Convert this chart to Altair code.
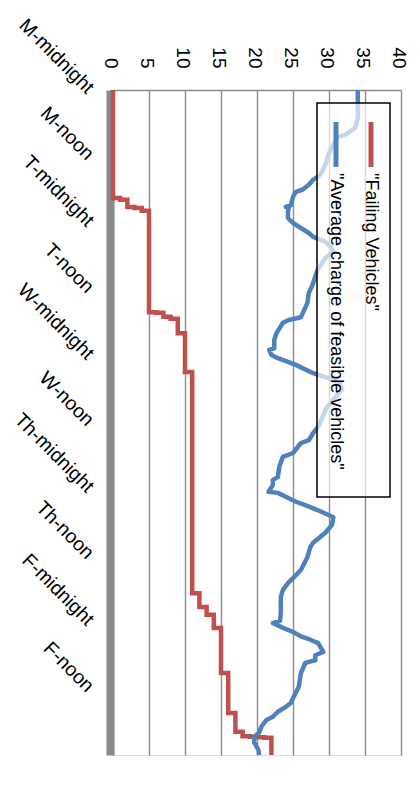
import json
import altair as alt
import pandas as pd

# ---- data ----
value_ticks = [0, 5, 10, 15, 20, 25, 30, 35, 40]
time_labels = ["M-midnight", "M-noon", "T-midnight", "T-noon", "W-midnight",
               "W-noon", "Th-midnight", "Th-noon", "F-midnight", "F-noon"]
time_tick_hours = [0, 12, 24, 36, 48, 60, 72, 84, 96, 108]
series_names = ['"Failing Vehicles"', '"Average charge of feasible vehicles"']

failing_hours = [0, 19.5, 19.8, 21.1, 21.3, 21.8, 40.1, 40.2, 40.9, 41.3, 43.9,
                 50.9, 90.8, 93.3, 94.7, 97.1, 105.2, 112.4, 115.8, 116.6, 116.7,
                 116.8, 116.9, 120]
failing_counts = [0, 1, 2, 3, 4, 5, 6, 7, 8, 9, 10, 11, 12, 13, 14, 15, 16, 17,
                  18, 19, 20, 21, 22, 22]

charge_hours = [0, 5.1, 6.9, 8.1, 8.5, 10.3, 11.7, 13.5, 15.3, 16.2, 17.1, 18.0,
                18.4, 19.3, 20.8, 21.1, 21.3, 22.0, 23.1, 24.0, 24.9, 25.8, 26.5,
                27.4, 28.5, 29.2, 30.3, 32.5, 35.2, 36.6, 38.4, 41.0, 41.5, 42.0,
                43.9, 45.1, 46.6, 46.9, 47.8, 48.4, 49.6, 51.1, 52.0, 52.9, 54.1,
                55.6, 57.2, 59.0, 60.8, 61.9, 63.2, 63.7, 65.5, 66.2, 68.0, 69.8,
                70.4, 71.3, 72.5, 72.7, 73.4, 74.3, 74.9, 75.8, 77.1, 78.5, 79.9,
                81.7, 82.5, 84.3, 86.6, 88.1, 89.0, 90.2, 91.5, 94.4, 95.8, 96.2,
                96.5, 97.1, 97.8, 98.7, 99.2, 99.8, 101.4, 102.0, 102.9, 103.2,
                103.4, 105.2, 107.7, 109.5, 110.6, 111.3, 112.2, 113.1, 113.7,
                114.9, 116.0, 116.7, 117.7, 119.1, 120]
charge_values = [34.0, 34.0, 33.6, 32.2, 31.2, 30.4, 29.9, 29.5, 28.8, 27.8, 27.2,
                 26.3, 25.4, 25.0, 24.7, 24.0, 24.4, 24.3, 24.3, 25.0, 26.1, 27.2,
                 27.8, 29.5, 30.4, 30.6, 29.5, 28.4, 27.7, 27.2, 27.0, 26.1, 24.4,
                 23.6, 22.7, 22.4, 22.4, 21.7, 22.0, 22.9, 25.4, 27.8, 29.9, 31.5,
                 31.8, 30.8, 29.7, 29.1, 28.5, 27.8, 27.2, 26.1, 25.0, 23.6, 23.1,
                 22.9, 22.2, 22.2, 21.6, 22.9, 24.0, 25.4, 26.7, 28.4, 30.6, 30.4,
                 29.5, 27.8, 27.4, 27.0, 26.1, 25.0, 24.3, 23.6, 23.3, 23.3, 23.2,
                 22.2, 22.7, 23.7, 25.0, 26.3, 27.4, 28.5, 29.2, 28.1, 28.1, 27.2,
                 26.7, 26.1, 25.8, 25.1, 24.7, 24.0, 22.9, 22.2, 21.3, 20.6, 20.3,
                 19.6, 19.6, 20.2, 20.3]

RED = "#C0504D"
BLUE = "#4F81BD"
FONT = "Liberation Sans"

failing_df = pd.DataFrame({"hour": failing_hours, "v": failing_counts})
charge_df = pd.DataFrame({"hour": charge_hours, "v": charge_values})

label_expr = json.dumps(time_labels) + "[round(datum.value / 12)]"

x_enc = alt.X(
    "v:Q",
    title=None,
    scale=alt.Scale(domain=[0, 40], nice=False, zero=False),
    axis=alt.Axis(
        orient="top", values=value_ticks, grid=True, gridColor="#8c8c8c",
        gridWidth=1.4, domainColor="#8c8c8c", domainWidth=1.5, ticks=False,
        tickSize=0, labelAngle=90, labelAlign="right", labelBaseline="middle",
        labelPadding=22, labelOffset=-3, labelFont=FONT, labelFontSize=19,
        labelColor="#000", labelFlush=False, labelOverlap=False, labelBound=False,
    ),
)
y_enc = alt.Y(
    "hour:Q",
    title=None,
    scale=alt.Scale(domain=[0, 120], nice=False, zero=False, reverse=True),
    axis=alt.Axis(
        values=time_tick_hours, labelExpr=label_expr, grid=False,
        domainColor="#898989", domainWidth=8, offset=3, ticks=False, tickSize=0,
        labelAngle=45, labelAlign="right", labelBaseline="middle",
        labelPadding=20, labelFont=FONT, labelFontSize=19.5, labelColor="#000",
        labelFlush=False, labelOverlap=False, labelBound=False,
    ),
)

red_line = alt.Chart(failing_df).mark_line(
    color=RED, strokeWidth=4.5, interpolate="step-before"
).encode(x=x_enc, y=y_enc, order=alt.Order("hour:Q"))

blue_line = alt.Chart(charge_df).mark_line(
    color=BLUE, strokeWidth=4.5, strokeJoin="round"
).encode(x=x_enc, y=y_enc, order=alt.Order("hour:Q"))

box_df = pd.DataFrame({"k": [0]})
legend_box = alt.Chart(box_df).mark_rect(
    fill="white", fillOpacity=0.68, stroke="black", strokeWidth=1.5
).encode(x=alt.value(204), x2=alt.value(277), y=alt.value(13), y2=alt.value(407))

red_sym = alt.Chart(box_df).mark_rule(color=RED, strokeWidth=5).encode(
    x=alt.value(258), y=alt.value(32), y2=alt.value(77))
blue_sym = alt.Chart(box_df).mark_rule(color=BLUE, strokeWidth=5).encode(
    x=alt.value(223), y=alt.value(32), y2=alt.value(77))

red_txt = alt.Chart(pd.DataFrame({"label": [series_names[0]]})).mark_text(
    angle=90, align="left", baseline="middle", font=FONT, fontSize=18, color="#000"
).encode(x=alt.value(258), y=alt.value(83), text="label:N")
blue_txt = alt.Chart(pd.DataFrame({"label": [series_names[1]]})).mark_text(
    angle=90, align="left", baseline="middle", font=FONT, fontSize=18, color="#000"
).encode(x=alt.value(223), y=alt.value(83), text="label:N")

chart = alt.layer(
    red_line, blue_line, legend_box, red_sym, blue_sym, red_txt, blue_txt
).properties(
    width=288, height=665,
    autosize=alt.AutoSizeParams(type="none"),
    padding={"left": 105, "top": 82, "right": 10, "bottom": 5},
).configure_view(stroke=None).configure(background="white")

chart.save("out.html", embed_options={"renderer": "svg", "actions": False})
